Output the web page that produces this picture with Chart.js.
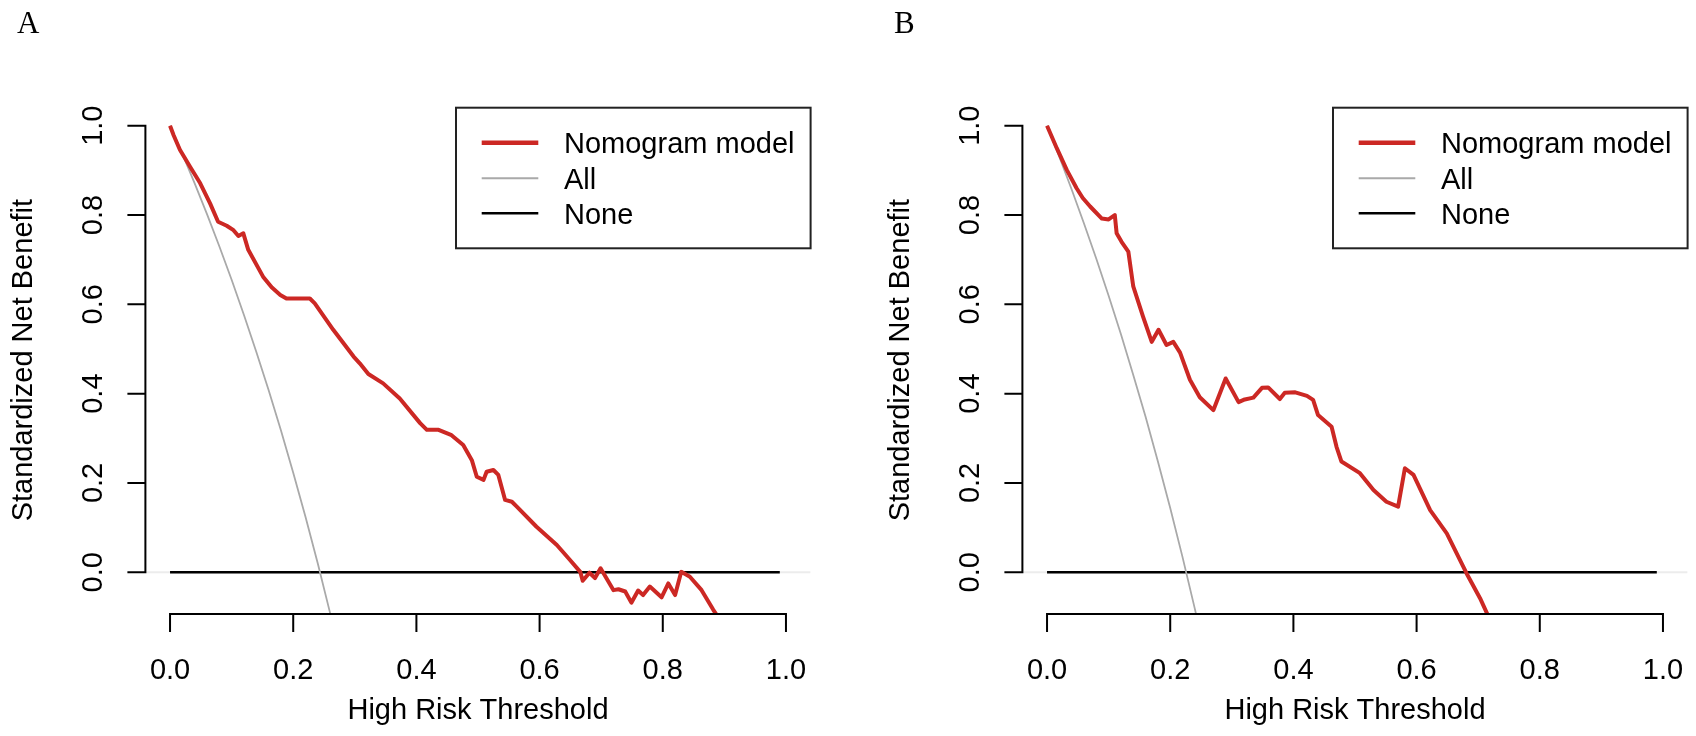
<!DOCTYPE html>
<html>
<head>
<meta charset="utf-8">
<script src="https://cdn.jsdelivr.net/npm/chart.js@4.4.1/dist/chart.umd.min.js"></script>
<style>
html,body{margin:0;padding:0;background:#fff;}
#wrap{position:relative;width:1696px;height:736px;overflow:hidden;background:#fff;}
canvas{position:absolute;top:0;}
</style>
</head>
<body>
<div id="wrap">
<canvas id="cA" width="848" height="736" style="left:0px;width:848px;height:736px;"></canvas>
<canvas id="cB" width="819" height="736" style="left:877px;width:819px;height:736px;"></canvas>
</div>
<script>
// ---------- data ----------
const xTicks = [0, 0.2, 0.4, 0.6, 0.8, 1.0];
const xTickLabels = ["0.0", "0.2", "0.4", "0.6", "0.8", "1.0"];
const yTicks = [0, 0.2, 0.4, 0.6, 0.8, 1.0];
const yTickLabels = ["0.0", "0.2", "0.4", "0.6", "0.8", "1.0"];
const legendLabels = ["Nomogram model", "All", "None"];
const xTitle = "High Risk Threshold";
const yTitle = "Standardized Net Benefit";

// Panel A – nomogram model [threshold, standardized net benefit]
const modelA = [
  [0,1.0],[0.006,0.978],[0.016,0.946],[0.0325,0.908],[0.049,0.871],[0.065,0.826],[0.078,0.785],
  [0.092,0.776],[0.103,0.766],[0.111,0.753],[0.119,0.759],[0.127,0.722],[0.151,0.662],
  [0.165,0.638],[0.179,0.621],[0.189,0.613],[0.227,0.613],[0.235,0.602],[0.265,0.543],[0.298,0.483],
  [0.308,0.468],[0.322,0.444],[0.346,0.423],[0.373,0.389],[0.406,0.334],[0.417,0.319],
  [0.436,0.319],[0.457,0.307],[0.476,0.285],[0.490,0.251],[0.498,0.214],[0.509,0.207],
  [0.514,0.225],[0.525,0.229],[0.533,0.218],[0.544,0.162],[0.555,0.158],[0.563,0.147],
  [0.595,0.102],[0.628,0.061],[0.649,0.028],[0.666,0.001],[0.670,-0.019],[0.681,-0.001],
  [0.690,-0.013],[0.699,0.009],[0.720,-0.040],[0.728,-0.038],[0.739,-0.043],[0.749,-0.068],
  [0.760,-0.041],[0.768,-0.051],[0.779,-0.032],[0.798,-0.056],[0.809,-0.025],[0.820,-0.051],
  [0.830,0.001],[0.844,-0.010],[0.863,-0.040],[0.882,-0.084],[0.892,-0.105]
];
// Panel A – treat all
const allA = [
  [0,1.0],[0.02,0.937],[0.04,0.871],[0.06,0.802],[0.08,0.730],[0.10,0.655],[0.12,0.576],
  [0.14,0.494],[0.16,0.408],[0.18,0.318],[0.20,0.223],[0.22,0.124],[0.24,0.019],
  [0.26,-0.092],[0.27,-0.149]
];
// Panel B – nomogram model
const modelB = [
  [0,1.0],[0.016,0.949],[0.032,0.901],[0.048,0.860],[0.058,0.838],[0.070,0.819],[0.089,0.792],
  [0.100,0.790],[0.110,0.800],[0.113,0.759],[0.121,0.740],[0.132,0.718],[0.140,0.640],
  [0.156,0.572],[0.170,0.516],[0.181,0.543],[0.194,0.509],[0.205,0.516],[0.216,0.492],
  [0.232,0.431],[0.248,0.392],[0.270,0.363],[0.290,0.434],[0.311,0.381],[0.321,0.387],
  [0.335,0.391],[0.349,0.413],[0.359,0.414],[0.378,0.388],[0.386,0.402],[0.403,0.403],
  [0.422,0.395],[0.432,0.386],[0.440,0.352],[0.462,0.326],[0.470,0.281],[0.478,0.248],
  [0.508,0.222],[0.530,0.184],[0.551,0.158],[0.570,0.147],[0.581,0.233],[0.595,0.218],
  [0.622,0.139],[0.649,0.087],[0.681,-0.002],[0.703,-0.058],[0.722,-0.115]
];
// Panel B – treat all
const allB = [
  [0,1.0],[0.02,0.930],[0.04,0.857],[0.06,0.781],[0.08,0.702],[0.10,0.619],[0.12,0.533],
  [0.14,0.442],[0.16,0.348],[0.18,0.248],[0.20,0.144],[0.22,0.034],[0.24,-0.082],[0.25,-0.142]
];
// Treat none
const noneLine = [[0,0],[0.99,0]];
const zeroRef = [[-0.04,0],[1.04,0]];

// ---------- style ----------
const RED = "rgb(204,40,36)";
const GRAY = "#a9a9a9";
const SANS = '"Liberation Sans", Arial, Helvetica, sans-serif';
const SERIF = '"Liberation Serif", "Times New Roman", serif';

function pts(arr){ return arr.map(p => ({x:p[0], y:p[1]})); }

function decoPlugin(letter){
  return {
    id: 'deco' + letter,
    afterDraw(chart){
      const ctx = chart.ctx, xs = chart.scales.x, ys = chart.scales.y, ca = chart.chartArea;
      ctx.save();
      ctx.strokeStyle = '#000';
      ctx.lineWidth = 2;
      ctx.lineCap = 'butt';
      // x axis
      const axY = ca.bottom + 0.4;
      ctx.beginPath();
      ctx.moveTo(xs.getPixelForValue(xTicks[0]) - 1, axY);
      ctx.lineTo(xs.getPixelForValue(xTicks[xTicks.length-1]) + 1, axY);
      xTicks.forEach(v => { const px = xs.getPixelForValue(v); ctx.moveTo(px, axY); ctx.lineTo(px, axY + 18); });
      ctx.stroke();
      // y axis
      const axX = ca.left;
      ctx.beginPath();
      ctx.moveTo(axX, ys.getPixelForValue(yTicks[0]) + 1);
      ctx.lineTo(axX, ys.getPixelForValue(yTicks[yTicks.length-1]) - 1);
      yTicks.forEach(v => { const py = ys.getPixelForValue(v); ctx.moveTo(axX, py); ctx.lineTo(axX - 18, py); });
      ctx.stroke();

      ctx.fillStyle = '#000';
      ctx.font = '29px ' + SANS;
      ctx.textAlign = 'center';
      ctx.textBaseline = 'alphabetic';
      xTicks.forEach((v,i) => ctx.fillText(xTickLabels[i], xs.getPixelForValue(v), 679));
      yTicks.forEach((v,i) => {
        ctx.save();
        ctx.translate(axX - 43.7, ys.getPixelForValue(v));
        ctx.rotate(-Math.PI/2);
        ctx.fillText(yTickLabels[i], 0, 0);
        ctx.restore();
      });
      // titles
      ctx.fillText(xTitle, (ca.left + ca.right)/2, 719.3);
      ctx.save();
      ctx.translate(axX - 113.7, (ca.top + ca.bottom)/2);
      ctx.rotate(-Math.PI/2);
      ctx.fillText(yTitle, 0, 0);
      ctx.restore();

      // legend
      const bx = ca.right - 354.6, by = ca.top + 1, bw = 354.6, bh = 140.6;
      ctx.strokeStyle = '#222';
      ctx.lineWidth = 2;
      ctx.strokeRect(bx, by, bw, bh);
      const ly = [by + 35, by + 70.6, by + 105.6];
      const lc = [RED, GRAY, '#000'];
      const lw = [4.5, 2, 2.6];
      ctx.textAlign = 'left';
      for (let i = 0; i < 3; i++){
        ctx.beginPath();
        ctx.strokeStyle = lc[i];
        ctx.lineWidth = lw[i];
        ctx.moveTo(bx + 25.7, ly[i]);
        ctx.lineTo(bx + 82.3, ly[i]);
        ctx.stroke();
        ctx.fillStyle = '#000';
        ctx.fillText(legendLabels[i], bx + 108, ly[i] + 10.6);
      }
      // panel letter
      ctx.font = '31px ' + SERIF;
      ctx.fillText(letter, 17, 32.5);
      ctx.restore();
    }
  };
}

function makeChart(id, letter, model, all, canvasW){
  const ctx = document.getElementById(id).getContext('2d');
  return new Chart(ctx, {
    type: 'line',
    data: {
      datasets: [
        {label: legendLabels[0], data: pts(model), borderColor: RED, borderWidth: 4, order: 0},
        {label: legendLabels[1], data: pts(all), borderColor: GRAY, borderWidth: 1.8, order: 1},
        {label: legendLabels[2], data: pts(noneLine), borderColor: '#000', borderWidth: 2.4, order: 2},
        {label: 'ref', data: pts(zeroRef), borderColor: '#ececec', borderWidth: 2, order: 3}
      ]
    },
    options: {
      responsive: false,
      animation: false,
      devicePixelRatio: 1,
      events: [],
      parsing: true,
      layout: {padding: {left: 145.4, right: canvasW - 810.6, top: 106.7, bottom: 736 - 613.6}},
      scales: {
        x: {type: 'linear', min: -0.04, max: 1.04, display: false},
        y: {type: 'linear', min: -0.0925, max: 1.0425, display: false}
      },
      plugins: {legend: {display: false}, tooltip: {enabled: false}, title: {display: false}},
      elements: {
        point: {radius: 0},
        line: {tension: 0, borderJoinStyle: 'round', borderCapStyle: 'butt', fill: false}
      }
    },
    plugins: [decoPlugin(letter)]
  });
}

makeChart('cA', 'A', modelA, allA, 848);
makeChart('cB', 'B', modelB, allB, 819);
</script>
</body>
</html>
